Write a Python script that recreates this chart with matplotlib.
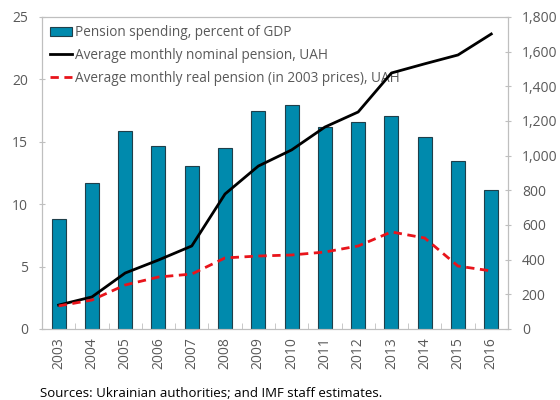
import numpy as np
import matplotlib.pyplot as plt

years = ['2003', '2004', '2005', '2006', '2007', '2008', '2009', '2010',
         '2011', '2012', '2013', '2014', '2015', '2016']
spending = [8.8, 11.7, 15.9, 14.7, 13.1, 14.5, 17.5, 17.95, 16.2, 16.6, 17.1, 15.4, 13.5, 11.1]
nominal = [138, 185, 323, 398, 479, 779, 940, 1033, 1165, 1252, 1477, 1530, 1581, 1702]
real = [133, 167, 254, 300, 317, 410, 421, 427, 444, 479, 560, 525, 363, 335]

plt.rcParams['font.family'] = ['Open Sans', 'DejaVu Sans']

fig = plt.figure(figsize=(5.6, 4.0), dpi=100)
ax = fig.add_axes([0.075, 0.1775, 0.832, 0.78])
ax2 = ax.twinx()

x = np.arange(len(years))
bars = ax.bar(x, spending, width=0.42, color='#008aad', edgecolor='#1f3f4a', linewidth=0.8,
              label='Pension spending, percent of GDP', zorder=2)
l1, = ax2.plot(x, nominal, color='black', lw=2, label='Average monthly nominal pension, UAH')
l2, = ax2.plot(x, real, color='#e8141b', lw=2, ls=(0, (3, 2)),
               label='Average monthly real pension (in 2003 prices), UAH')

ax.set_xlim(-0.5, len(years) - 0.5)
ax.set_ylim(0, 25)
ax.set_yticks(range(0, 26, 5))
ax2.set_ylim(0, 1800)
ax2.set_yticks(range(0, 1801, 200))
ax2.set_yticklabels([f'{v:,}' for v in range(0, 1801, 200)])

ax.set_xticks(x)
ax.set_xticklabels(years, rotation=90)
ax.set_xticks(np.arange(0.5, len(years) - 1, 1), minor=True)
ax.tick_params(axis='x', which='major', length=0, labelsize=10, colors='#595959', pad=6)
ax.tick_params(axis='x', which='minor', length=4, direction='in', color='#bfbfbf')
ax.tick_params(axis='y', length=4, direction='inout', color='#bfbfbf', labelsize=10,
               labelcolor='#595959', pad=8)
ax2.tick_params(axis='y', length=4, direction='inout', color='#bfbfbf', labelsize=10,
                labelcolor='#595959', pad=8)

for a in (ax, ax2):
    for s in a.spines.values():
        s.set_color('#bfbfbf')

ax.legend(handles=[bars, l1, l2], loc='upper left', frameon=False, fontsize=9.8,
          labelcolor='#595959', handlelength=1.6, handletextpad=0.2, borderaxespad=0.2,
          labelspacing=0.58, bbox_to_anchor=(0.0, 1.0))

fig.text(0.072, 0.008, 'Sources: Ukrainian authorities; and IMF staff estimates.',
         fontsize=9.5, color='black')

fig.savefig('out.png', dpi=100)
